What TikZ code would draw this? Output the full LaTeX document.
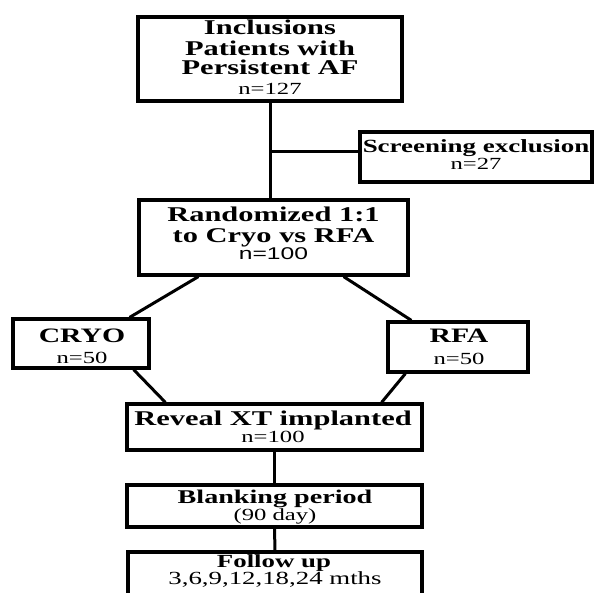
\documentclass[tikz,border=0pt]{standalone}
\usepackage{fontspec}
\setmainfont{Liberation Serif}[FakeStretch=1.45]
\newfontfamily\sansstretch{Liberation Sans}[FakeStretch=1.45]
\begin{document}
\begin{tikzpicture}[x=1pt,y=-1pt,
  box/.style={draw, line width=3.2pt, inner sep=0pt, rectangle},
  conn/.style={line width=3pt},
  tb/.style={anchor=base, inner sep=0pt, font=\bfseries\fontsize{21}{21}\selectfont},
  tbs/.style={anchor=base, inner sep=0pt, font=\bfseries\fontsize{19.4}{20}\selectfont},
  tn/.style={anchor=base, inner sep=0pt, font=\fontsize{17}{17}\selectfont},
]
\useasboundingbox (0,0) rectangle (594,593);
\clip (0,0) rectangle (594,593);

% boxes
\node[box, minimum width=264pt, minimum height=84pt] (incl) at (270,59) {};
\node[box, minimum width=232pt, minimum height=50pt] (screen) at (476,157) {};
\node[box, minimum width=269pt, minimum height=75pt] (rand) at (273.5,237.5) {};
\node[box, minimum width=136pt, minimum height=49pt] (cryo) at (81,343.5) {};
\node[box, minimum width=140pt, minimum height=50pt] (rfa) at (458,347) {};
\node[box, minimum width=295pt, minimum height=46pt] (reveal) at (274.5,427) {};
\node[box, minimum width=295pt, minimum height=42pt] (blank) at (274.5,506) {};
\node[box, minimum width=294pt, minimum height=60pt] (follow) at (275,582) {};

% texts
\node[tb] (inclA) at (270,35) {Inclusions};
\node[tb] (inclB) at (270,56) {Patients with};
\node[tb] (inclC) at (270,75) {Persistent AF};
\node[tn] (inclN) at (270,95) {n=127};
\node[tb, font=\bfseries\fontsize{18.6}{19}\selectfont] (scrA) at (476,153) {Screening exclusion};
\node[tn] (scrN) at (476,170) {n=27};
\node[tb] (randA) at (273.5,222) {Randomized 1:1};
\node[tb] (randB) at (273.5,243) {to Cryo vs RFA};
\node[tn, font=\sansstretch\fontsize{17}{17}\selectfont] (randN) at (273.5,260) {n=100};
\node[tb, font=\bfseries\fontsize{20.5}{21}\selectfont] (cryoA) at (82,342) {CRYO};
\node[tn] (cryoN) at (82,363) {n=50};
\node[tb, font=\bfseries\fontsize{20.5}{21}\selectfont] (rfaA) at (459,343) {RFA};
\node[tn] (rfaN) at (459,364) {n=50};
\node[tb] (revA) at (273,425) {Reveal XT implanted};
\node[tn] (revN) at (273,442) {n=100};
\node[tbs] (blkA) at (275,503) {Blanking period};
\node[tn] (blkN) at (275,520) {(90 day)};
\node[tb, font=\bfseries\fontsize{18.5}{19}\selectfont] (folA) at (274,567) {Follow up};
\node[tn, font=\fontsize{18.5}{19}\selectfont] (folB) at (275,584) {3,6,9,12,18,24 mths};

% connectors
\coordinate (j1) at (270,152);
\draw[conn] (incl.south) -- (incl.south |- rand.north);
\draw[conn] (j1) -- (j1 -| screen.west);
\draw[conn] ([xshift=61pt]rand.south west) -- ([xshift=-21pt]cryo.north east);
\draw[conn] ([xshift=-66pt]rand.south east) -- ([xshift=25pt]rfa.north west);
\draw[conn] ([xshift=-17pt]cryo.south east) -- ([xshift=40pt]reveal.north west);
\draw[conn] ([xshift=19pt]rfa.south west) -- ([xshift=-42pt]reveal.north east);
\draw[conn] (reveal.south) -- (blank.north);
\draw[conn] (blank.south) -- (follow.north);
\end{tikzpicture}
\end{document}
